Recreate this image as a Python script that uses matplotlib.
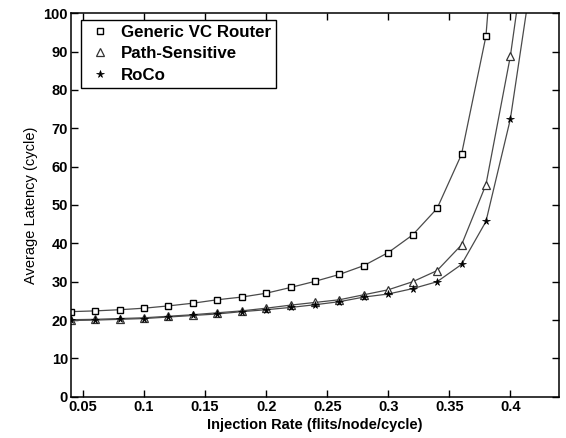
import matplotlib
matplotlib.use("Agg")
import matplotlib.pyplot as plt

# injection rates (flits/node/cycle); last point of each series lies above the plotted range
rate = [0.04, 0.06, 0.08, 0.10, 0.12, 0.14, 0.16, 0.18, 0.20, 0.22,
        0.24, 0.26, 0.28, 0.30, 0.32, 0.34, 0.36, 0.38, 0.40, 0.42]

generic_vc = [22.2, 22.4, 22.7, 23.1, 23.7, 24.4, 25.3, 26.0, 27.0, 28.5,
              30.1, 31.9, 34.2, 37.6, 42.2, 49.1, 63.2, 94.0, 174.0]
path_sensitive = [20.1, 20.2, 20.4, 20.6, 21.0, 21.4, 21.9, 22.4, 23.1, 23.9,
                  24.6, 25.3, 26.6, 27.9, 30.0, 32.9, 39.6, 55.3, 88.8, 134.0]
roco = [19.9, 20.0, 20.2, 20.4, 20.8, 21.2, 21.6, 22.2, 22.7, 23.3,
        24.0, 24.8, 26.0, 26.8, 28.2, 30.0, 34.5, 45.7, 72.4, 115.0]

series = [
    ("Generic VC Router", generic_vc, dict(marker="s", ms=5, mfc="white", mec="black", mew=1.0)),
    ("Path-Sensitive", path_sensitive, dict(marker="^", ms=6, mfc="white", mec="#333333", mew=0.9)),
    ("RoCo", roco, dict(marker="*", ms=5.5, mfc="black", mec="black", mew=0.5)),
]

plt.rcParams["font.family"] = ["Liberation Sans", "DejaVu Sans"]

fig = plt.figure(figsize=(5.66, 4.38), dpi=100)
ax = fig.add_axes([0.125, 0.094, 0.863, 0.876])

for label, vals, style in series:
    ax.plot(rate[:len(vals)], vals, color="#4a4a4a", lw=0.9, label=label, **style)

ax.set_xlim(0.04, 0.44)
ax.set_ylim(0, 100)
ax.set_xticks([0.05, 0.1, 0.15, 0.2, 0.25, 0.3, 0.35, 0.4])
ax.set_xticklabels(["0.05", "0.1", "0.15", "0.2", "0.25", "0.3", "0.35", "0.4"])
ax.set_yticks(range(0, 101, 10))
ax.tick_params(direction="in", top=True, right=True, length=5, width=1,
               labelsize=10.5, pad=2)
for t in ax.get_xticklabels() + ax.get_yticklabels():
    t.set_fontweight("bold")
for s in ax.spines.values():
    s.set_linewidth(1.1)

ax.set_xlabel("Injection Rate (flits/node/cycle)", fontsize=10.5, fontweight="bold", labelpad=3)
ax.set_ylabel("Average Latency (cycle)", fontsize=10.5, labelpad=4)

leg = ax.legend(loc="upper left", bbox_to_anchor=(0.021, 0.983),
                prop={"weight": "bold", "size": 12.2},
                fancybox=False, edgecolor="black", framealpha=1,
                borderaxespad=0, borderpad=0.3, handlelength=1.7,
                handletextpad=0.35, labelspacing=0.38)
leg.get_frame().set_linewidth(1.0)
for h in leg.get_lines():
    h.set_linestyle("none")

fig.savefig("out.png", dpi=100)
